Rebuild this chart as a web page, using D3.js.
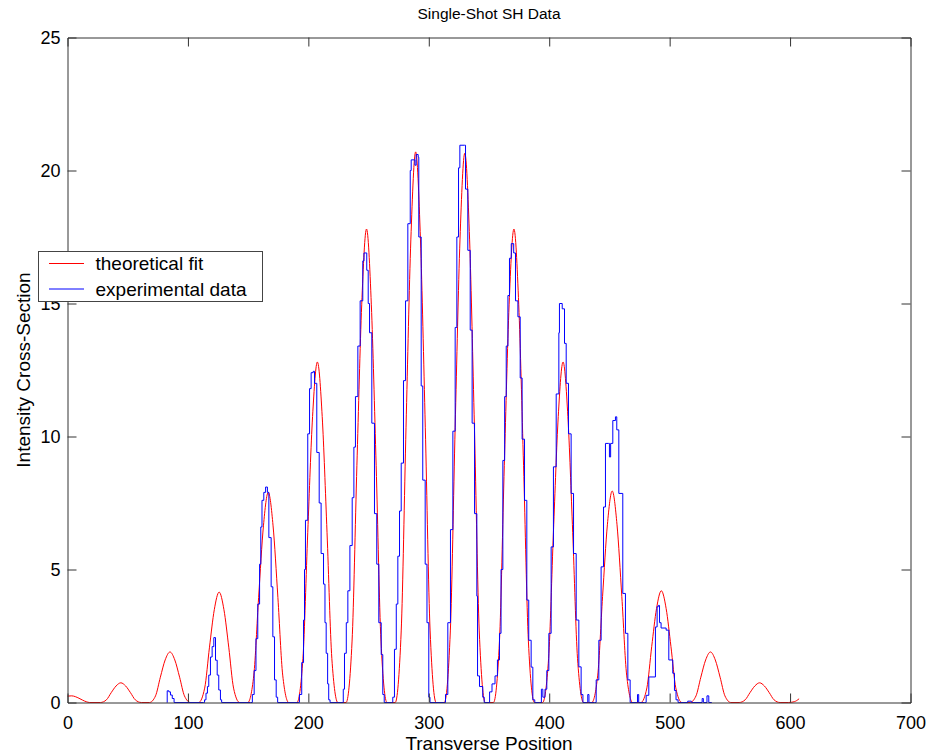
<!DOCTYPE html>
<html><head><meta charset="utf-8">
<script src="https://cdn.jsdelivr.net/npm/d3@7"></script>
<style>
html,body{margin:0;padding:0;background:#fff;}
svg{display:block;font-family:"Liberation Sans",Arial,Helvetica,sans-serif;}
</style></head>
<body>
<svg id="chart" width="940" height="754"></svg>
<script>
const titleText = "Single-Shot SH Data";
const xLabel = "Transverse Position";
const yLabel = "Intensity Cross-Section";
const seriesNames = ["theoretical fit", "experimental data"];
const xTicks = [0,100,200,300,400,500,600,700];
const yTicks = [0,5,10,15,20,25];

// theoretical fit (x, intensity)
const theoretical = [
 [0,0.24],[3.5,0.25],[6.5,0.22],[9.5,0.16],[12.5,0.09],[15.5,0.03],[18.5,0],
 [27.3,0],[32.3,0.10],[36.3,0.37],[40.3,0.62],[44.3,0.74],[48.3,0.62],[52.3,0.37],[56.3,0.10],[61.3,0],
 [68.1,0],[73.1,0.25],[77.1,0.95],[81.1,1.60],[85.1,1.90],[89.1,1.60],[93.1,0.95],[97.1,0.25],[102.1,0],
 [108.9,0],[113.9,0.54],[117.9,2.08],[121.9,3.49],[125.9,4.15],[129.9,3.49],[133.9,2.08],[137.9,0.54],[142.9,0],
 [149.7,0],[154.7,1.03],[158.7,3.95],[162.7,6.64],[166.7,7.90],[170.7,6.64],[174.7,3.95],[178.7,1.03],[183.7,0],
 [190.5,0],[195.5,1.66],[199.5,6.40],[203.5,10.75],[207.5,12.80],[211.5,10.75],[215.5,6.40],[219.5,1.66],[224.5,0],
 [231.3,0],[236.3,2.31],[240.3,8.90],[244.3,14.95],[248.3,17.80],[252.3,14.95],[256.3,8.90],[260.3,2.31],[265.3,0],
 [272.1,0],[277.1,2.69],[281.1,10.35],[285.1,17.39],[289.1,20.70],[293.1,17.39],[297.1,10.35],[301.1,2.69],[306.1,0],
 [312.9,0],[317.9,2.69],[321.9,10.35],[325.9,17.39],[329.9,20.65],[333.9,17.39],[337.9,10.35],[341.9,2.69],[346.9,0],
 [353.7,0],[358.7,2.31],[362.7,8.90],[366.7,14.95],[370.7,17.80],[374.7,14.95],[378.7,8.90],[382.7,2.31],[387.7,0],
 [394.5,0],[399.5,1.66],[403.5,6.40],[407.5,10.75],[411.5,12.80],[415.5,10.75],[419.5,6.40],[423.5,1.66],[428.5,0],
 [435.3,0],[440.3,1.03],[444.3,3.98],[448.3,6.68],[452.3,7.95],[456.3,6.68],[460.3,3.98],[464.3,1.03],[469.3,0],
 [476.1,0],[481.1,0.55],[485.1,2.10],[489.1,3.53],[493.1,4.20],[497.1,3.53],[501.1,2.10],[505.1,0.55],[510.1,0],
 [516.9,0],[521.9,0.25],[525.9,0.95],[529.9,1.60],[533.9,1.90],[537.9,1.60],[541.9,0.95],[545.9,0.25],[550.9,0],
 [557.7,0],[562.7,0.10],[566.7,0.37],[570.7,0.62],[574.7,0.74],[578.7,0.62],[582.7,0.37],[586.7,0.10],[591.7,0],
 [598.5,0],[603.5,0.03],[607.5,0.14]
];

// experimental data (x, intensity), stair-step samples
const experimental = [
 [82.5,0],[82.8,0.44],[84.2,0.40],[85.5,0.28],[87,0.15],[88.5,0],
 [113,0],[113.8,0.1],[115,0.35],[116.2,0.6],[117.3,1.03],[118.7,1.71],[120.1,2.1],[121.5,2.44],[122.9,1.59],[124.3,1.03],[125.6,0.47],[127,0.1],[128,0],
 [152,0],[153.5,0.3],[155,1.2],[156.5,2.4],[158,3.7],[159.5,5.2],[160.5,6.6],[161.5,7.6],[163,7.9],[164.5,8.1],[166,7.9],[167.2,6.2],[169.1,4.35],[170.5,2.47],[171.9,0.85],[173.3,0.2],[174.5,0],
 [191.5,0],[192.6,0.3],[194.5,1.5],[196,3.1],[196.8,5.0],[197.6,6.85],[199.5,10.1],[201,11.8],[202.3,12.4],[204,12.45],[205.1,12.0],[207,9.4],[209,7.5],[210.6,5.6],[212.6,4.45],[213.8,3.0],[214.8,1.85],[216,0.7],[216.9,0.1],[218,0],
 [228,0],[229,0.5],[230,1.85],[231.5,3.0],[232.8,4.2],[234.5,5.9],[236.4,7.7],[237.8,9.6],[239.1,11.5],[241.1,13.4],[243,15.1],[245.2,16.6],[246.2,16.9],[248.5,16.25],[249.7,15.0],[250.8,13.9],[252.7,10.5],[254.9,7.1],[256.8,5.2],[258.5,3.0],[260.5,1.8],[261.8,0.3],[263,0],
 [269,0],[270.1,0.2],[271.5,2.0],[273,3.7],[274.3,5.5],[275.7,7.2],[277.1,9.0],[279,12.1],[280.7,15.1],[282.6,18.0],[284.6,20.0],[285.4,20.4],[288.5,20.2],[289.5,20.6],[291.2,20.5],[291.7,17.5],[293.7,11.9],[295,8.36],[297,5.2],[298.5,3.0],[300,0.2],[301,0],
 [312.5,0],[313.9,0.3],[315.8,3.0],[318,6.5],[320,10.2],[321.9,14.1],[323.3,17.5],[324.7,20.1],[325.8,20.95],[329.7,20.95],[330.5,19.3],[332.4,17.0],[334.4,14.0],[336,10.5],[338,7.1],[339.9,4.0],[340.5,1.0],[342.1,0.6],[344.8,0.2],[346,0],
 [349,0],[350.5,0.4],[352.5,0.7],[355,1.0],[357,1.6],[358.7,2.6],[360,5.0],[361.5,9.1],[363,11.5],[364.3,13.4],[365.7,15.3],[367,16.7],[368.5,17.25],[370.5,16.9],[372,15.1],[374,14.5],[375.9,12.2],[377.5,9.9],[379.5,7.6],[381.4,3.85],[383,2.34],[385,1.33],[386.4,0.1],[388,0],
 [392,0],[393.5,0.5],[394.7,0.2],[396.5,0.5],[398,1.2],[399.7,2.6],[401.6,5.85],[403.5,8.86],[405.8,11.6],[408,13.9],[408.5,15.0],[410.8,14.8],[412.7,13.5],[414.1,12.0],[416,10.1],[418.2,7.86],[420.2,5.6],[422.4,3.1],[424.6,1.34],[426.5,0.3],[428,0],
 [431,0],[432,0.3],[433,0],[437.5,0],[439,0.85],[441.2,2.34],[443.1,5.1],[445.1,7.35],[446.7,9.74],[449.2,9.74],[450,9.23],[451,9.74],[452.8,10.6],[455,10.74],[456.1,10.25],[457.8,7.86],[461.1,4.1],[463.3,2.6],[465.3,0.85],[467.2,0],
 [472.5,0],[473.3,0.3],[474.3,0],[479,0],[480.5,0.27],[482.7,0.96],[488.2,2.84],[489.6,3.6],[490.6,3.65],[491.6,3.0],[492.9,2.8],[497.1,2.72],[499.3,1.6],[502.6,1.1],[504,0.45],[505.3,0.1],[507,0],
 [515,0.05],[518,0],[527,0.15],[528,0],[531,0.25],[532.5,0],[535,0]
];

const chartW = 940, chartH = 754;
const mL = 67.5, mR = 910.5, mT = 37.5, mB = 702.5;
const svg = d3.select("#chart");
svg.append("rect").attr("width", chartW).attr("height", chartH).attr("fill", "#fff");

const x = d3.scaleLinear().domain([0, 700]).range([mL, mR]);
const y = d3.scaleLinear().domain([0, 25]).range([mB, mT]);

const axisColor = "#333";
const tickLen = 9;

const lineRed = d3.line().x(d => x(d[0])).y(d => y(d[1])).curve(d3.curveMonotoneX);
const lineBlue = d3.line().x(d => x(d[0])).y(d => y(d[1])).curve(d3.curveStepAfter);

svg.append("path").datum(theoretical).attr("d", lineRed)
  .attr("fill", "none").attr("stroke", "#ff0000").attr("stroke-width", 1);
svg.append("path").datum(experimental).attr("d", lineBlue)
  .attr("fill", "none").attr("stroke", "#0000ff").attr("stroke-width", 1);

const gB = svg.append("g").attr("transform", `translate(0,${mB})`)
  .call(d3.axisBottom(x).tickValues(xTicks).tickSize(-tickLen).tickPadding(14).tickFormat(d3.format("d")));
const gT = svg.append("g").attr("transform", `translate(0,${mT})`)
  .call(d3.axisTop(x).tickValues(xTicks).tickSize(-tickLen).tickFormat(""));
const gL = svg.append("g").attr("transform", `translate(${mL},0)`)
  .call(d3.axisLeft(y).tickValues(yTicks).tickSize(-tickLen).tickPadding(7).tickFormat(d3.format("d")));
const gR = svg.append("g").attr("transform", `translate(${mR},0)`)
  .call(d3.axisRight(y).tickValues(yTicks).tickSize(-tickLen).tickFormat(""));

[gB, gT, gL, gR].forEach(g => {
  g.select(".domain").attr("stroke", axisColor).attr("stroke-width", 1);
  g.selectAll(".tick line").attr("stroke", axisColor);
  g.selectAll(".tick text").attr("fill", "#000").style("font-size", "18px")
    .style("font-family", '"Liberation Sans",Arial,sans-serif');
});
gB.selectAll(".tick").filter(d => d === 0 || d === 700).select("line").remove();
gT.selectAll(".tick").filter(d => d === 0 || d === 700).select("line").remove();
gL.selectAll(".tick").filter(d => d === 0 || d === 25).select("line").remove();
gR.selectAll(".tick").filter(d => d === 0 || d === 25).select("line").remove();

svg.append("text").attr("x", (mL + mR) / 2).attr("y", 19)
  .attr("text-anchor", "middle").style("font-size", "15.5px").attr("fill", "#000").text(titleText);
svg.append("text").attr("x", (mL + mR) / 2).attr("y", 750)
  .attr("text-anchor", "middle").style("font-size", "19px").attr("fill", "#000").text(xLabel);
svg.append("text").attr("transform", `translate(30,${(mT + mB) / 2}) rotate(-90)`)
  .attr("text-anchor", "middle").style("font-size", "19px").attr("fill", "#000").text(yLabel);

const lg = svg.append("g");
lg.append("rect").attr("x", 38.5).attr("y", 251.5).attr("width", 224).attr("height", 50)
  .attr("fill", "#fff").attr("stroke", "#444").attr("stroke-width", 1);
const legendColors = ["#ff0000", "#0000ff"];
seriesNames.forEach((name, i) => {
  const cy = 263.5 + i * 25.5;
  lg.append("line").attr("x1", 49).attr("x2", 84).attr("y1", cy).attr("y2", cy)
    .attr("stroke", legendColors[i]).attr("stroke-width", 1);
  lg.append("text").attr("x", 95.5).attr("y", cy).attr("dy", "0.35em")
    .style("font-size", "19px").attr("fill", "#000").text(name);
});
</script>
</body></html>
